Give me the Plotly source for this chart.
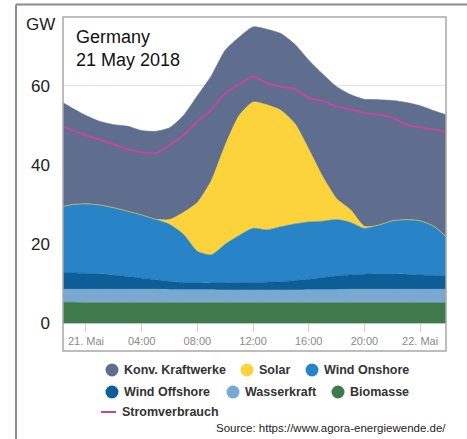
import plotly.graph_objects as go

# ---------------- data (GW) ----------------
hours = [-1.65, -1, 0, 1, 2, 3, 4, 5, 6, 7, 8, 9, 10, 11, 12, 13, 14, 15, 16,
         17, 18, 19, 20, 21, 22, 23, 24, 25, 25.86]
biomasse = [5.3, 5.3, 5.2, 5.2, 5.2, 5.2, 5.2, 5.2, 5.2, 5.2, 5.2, 5.2, 5.2, 5.2, 5.2,
            5.2, 5.2, 5.2, 5.2, 5.2, 5.2, 5.2, 5.2, 5.2, 5.2, 5.2, 5.2, 5.2, 5.2]
wasserkraft = [3.3, 3.3, 3.4, 3.4, 3.4, 3.4, 3.4, 3.4, 3.3, 3.3, 3.3, 3.3, 3.2, 3.2, 3.2,
               3.2, 3.2, 3.2, 3.3, 3.3, 3.3, 3.4, 3.4, 3.4, 3.4, 3.4, 3.4, 3.4, 3.4]
wind_offshore = [4.1, 4.1, 4.0, 3.9, 3.6, 3.2, 2.8, 2.4, 2.1, 1.8, 1.8, 1.7, 1.8, 1.9, 1.9,
                 2.0, 2.1, 2.4, 2.6, 3.0, 3.5, 3.6, 3.8, 3.9, 3.9, 3.8, 3.6, 3.5, 3.4]
wind_onshore = [16.8, 17.3, 17.6, 17.4, 17.0, 16.5, 16.0, 15.3, 14.4, 12.2, 7.9, 7.1, 9.8,
                11.9, 13.7, 13.2, 13.9, 14.3, 14.5, 14.3, 14.2, 13.3, 11.6, 12.3, 13.4,
                13.8, 13.7, 12.4, 9.9]
solar = [0, 0, 0, 0, 0, 0, 0, 0, 1.2, 5.5, 12.3, 18.7, 25.0, 30.3, 31.9, 31.6, 29.4,
         25.4, 18.4, 11.3, 5.3, 3.2, 0.5, 0, 0, 0, 0, 0, 0]
konv = [26.2, 24.4, 22.3, 21.1, 21.0, 21.5, 21.3, 22.2, 23.2, 24.5, 27.0, 26.5, 24.0,
        19.8, 19.0, 19.1, 19.4, 20.0, 22.5, 25.9, 28.3, 29.1, 32.1, 31.7, 30.4, 29.6,
        29.1, 29.2, 30.8]
stromverbrauch = [49.8, 48.8, 47.5, 46.4, 45.2, 44.0, 43.2, 43.0, 45.0, 47.5, 51.0, 54.0,
                  58.0, 60.4, 62.4, 60.6, 59.8, 59.2, 57.0, 56.1, 54.8, 54.0, 53.2, 52.7,
                  52.0, 50.2, 49.5, 49.0, 48.3]

tick_vals = [0, 4, 8, 12, 16, 20, 24]
tick_text = ["21. Mai", "04:00", "08:00", "12:00", "16:00", "20:00", "22. Mai"]
y_ticks = [0, 20, 40, 60]

series = [
    ("Biomasse", biomasse, "#3e7a4b"),
    ("Wasserkraft", wasserkraft, "#79a8d0"),
    ("Wind Offshore", wind_offshore, "#0d5e96"),
    ("Wind Onshore", wind_onshore, "#2884c6"),
    ("Solar", solar, "#fdd33c"),
    ("Konv. Kraftwerke", konv, "#5f6d8e"),
]
line_color = "#c1489f"

# ---------------- geometry ----------------
W, H = 467, 439
PL, PR, PT, PB = 63, 446, 17, 351   # plot frame in pixels
Y0 = -7.0
Y1 = 77.4
X0, X1 = -1.65, 25.86


def px(xp):
    return (xp - PL) / (PR - PL)


def py(yp):
    return (PB - yp) / (PB - PT)


fig = go.Figure()
for name, vals, col in series:
    fig.add_trace(go.Scatter(
        x=hours, y=vals, name=name, stackgroup="one", mode="lines",
        line=dict(color=col, width=0.6, shape="spline", smoothing=0.6),
        fillcolor=col, showlegend=False, hoverinfo="skip"))

fig.add_trace(go.Scatter(
    x=hours, y=stromverbrauch, name="Stromverbrauch", mode="lines",
    line=dict(color=line_color, width=2, shape="spline", smoothing=0.6),
    showlegend=False))

x_axis_pos = (0 - Y0) / (Y1 - Y0)

fig.update_layout(
    width=W, height=H,
    margin=dict(l=PL, r=W - PR, t=PT, b=H - PB),
    paper_bgcolor="white", plot_bgcolor="white",
    font=dict(family="Arial, Liberation Sans, sans-serif", color="#222"),
    xaxis=dict(range=[X0, X1], tickvals=tick_vals, ticktext=tick_text,
               showgrid=False, zeroline=False, showline=False,
               anchor="free", position=x_axis_pos,
               ticks="outside", ticklen=8, tickcolor="#d0d0d0", tickwidth=1,
               tickfont=dict(size=11, color="#8a8a8a")),
    yaxis=dict(range=[Y0, Y1], tickvals=y_ticks, showgrid=True,
               gridcolor="#e2e2e2", gridwidth=1, zeroline=False, showline=False,
               ticks="", ticklabelstandoff=12,
               tickfont=dict(size=17, color="#222")),
)

shapes = []
# plot frame
shapes.append(dict(type="rect", xref="paper", yref="paper", x0=0, x1=1, y0=0, y1=1,
                   line=dict(color="#a8a8a8", width=1.5), layer="above"))
# outer frame (top and left lines)
shapes.append(dict(type="line", xref="paper", yref="paper",
                   x0=px(16), x1=px(467), y0=py(4.5), y1=py(4.5),
                   line=dict(color="#8c8c8c", width=2)))
shapes.append(dict(type="line", xref="paper", yref="paper",
                   x0=px(16), x1=px(16), y0=py(4.5), y1=py(439),
                   line=dict(color="#8c8c8c", width=2)))

annotations = [
    dict(text="GW", xref="paper", yref="paper", x=px(24), y=py(25), xanchor="left",
         yanchor="middle", showarrow=False, font=dict(size=17, color="#222")),
    dict(text="Germany<br>21 May 2018", xref="paper", yref="paper", x=px(74), y=py(25),
         xanchor="left", yanchor="top", align="left", showarrow=False,
         font=dict(size=18, color="#111")),
    dict(text="Source: https://www.agora-energiewende.de/", xref="paper", yref="paper",
         x=px(448), y=py(428), xanchor="right", yanchor="middle", showarrow=False,
         font=dict(size=11.5, color="#222")),
]

# manual legend
legend_items = [
    ("Konv. Kraftwerke", "#5f6d8e", 112, 370),
    ("Solar", "#fdd33c", 247, 370),
    ("Wind Onshore", "#2884c6", 312, 370),
    ("Wind Offshore", "#0d5e96", 112, 392),
    ("Wasserkraft", "#79a8d0", 233, 392),
    ("Biomasse", "#3e7a4b", 338, 392),
]
for name, col, mx, my in legend_items:
    shapes.append(dict(type="circle", xref="paper", yref="paper",
                       xsizemode="pixel", ysizemode="pixel",
                       xanchor=px(mx), yanchor=py(my),
                       x0=-6.5, x1=6.5, y0=-6.5, y1=6.5,
                       fillcolor=col, line=dict(width=0)))
    annotations.append(dict(text="<b>%s</b>" % name, xref="paper", yref="paper",
                            x=px(mx + 10), y=py(my), xanchor="left", yanchor="middle",
                            showarrow=False, font=dict(size=12.5, color="#333")))
shapes.append(dict(type="line", xref="paper", yref="paper",
                   x0=px(101), x1=px(116), y0=py(412), y1=py(412),
                   line=dict(color=line_color, width=2)))
annotations.append(dict(text="<b>Stromverbrauch</b>", xref="paper", yref="paper",
                        x=px(120), y=py(412), xanchor="left", yanchor="middle",
                        showarrow=False, font=dict(size=12.5, color="#333")))

fig.update_layout(shapes=shapes, annotations=annotations)
fig.write_html("out.html", config={"displayModeBar": False},
               post_script="document.body.style.margin='0';document.body.style.overflow='hidden';")
